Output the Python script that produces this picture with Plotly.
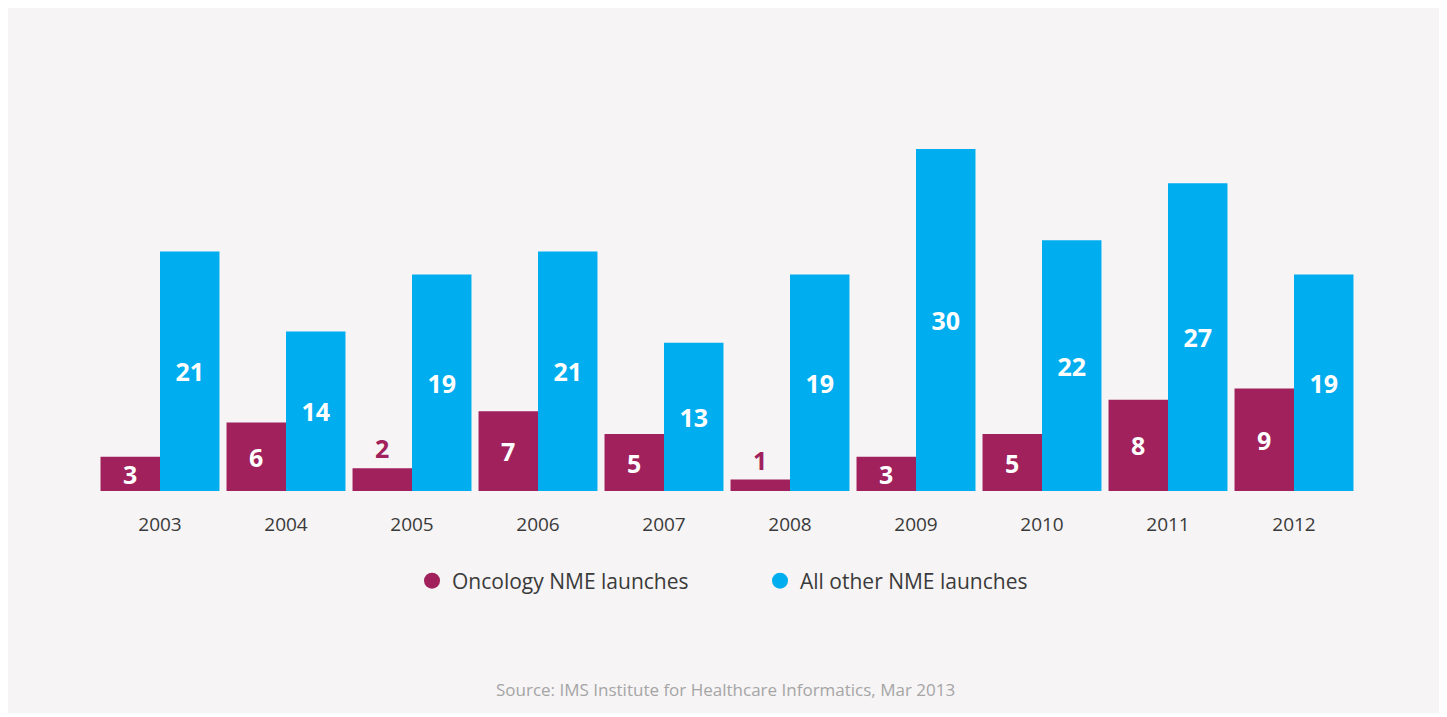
import plotly.graph_objects as go

years = ["2003", "2004", "2005", "2006", "2007", "2008", "2009", "2010", "2011", "2012"]
oncology = [3, 6, 2, 7, 5, 1, 3, 5, 8, 9]
other = [21, 14, 19, 21, 13, 19, 30, 22, 27, 19]

MAGENTA = "#a0215c"
BLUE = "#00adef"
PANEL = "#f6f4f5"
FONT = "Open Sans"

# small bars get their label above the bar
onc_pos = ["outside" if v < 3 else "inside" for v in oncology]

fig = go.Figure()
fig.add_trace(go.Bar(x=years, y=oncology, name="Oncology NME launches",
                     marker=dict(color=MAGENTA, line=dict(width=0)),
                     text=[str(v) for v in oncology], textposition=onc_pos,
                     insidetextanchor="middle", textangle=0, cliponaxis=False,
                     insidetextfont=dict(color="white", size=25, family=FONT, weight="bold"),
                     outsidetextfont=dict(color=MAGENTA, size=25, family=FONT, weight="bold"),
                     showlegend=False))
fig.add_trace(go.Bar(x=years, y=other, name="All other NME launches",
                     marker=dict(color=BLUE, line=dict(width=0)),
                     text=[str(v) for v in other], textposition="inside",
                     insidetextanchor="middle", textangle=0,
                     insidetextfont=dict(color="white", size=25, family=FONT, weight="bold"),
                     showlegend=False))

# legend entries with round markers
for name, col in [("Oncology NME launches", MAGENTA), ("All other NME launches", BLUE)]:
    fig.add_trace(go.Scatter(x=[None], y=[None], mode="markers", name=name,
                             marker=dict(symbol="circle", size=16, color=col)))

# page body has an 8px margin; target positions are given in page pixels
OFF = 8
W, H = 1447 - OFF, 717 - OFF
left, right, top, bottom = 97, 1357, 100, 491   # plot area in page px
l, t = left - OFF, top - OFF
r = W - (right - OFF)
b = H - (bottom - OFF)
pw, ph = right - left, bottom - top

def px(x):
    return (x - left) / pw

def py(y):
    return (bottom - y) / ph

fig.add_shape(type="rect", xref="paper", yref="paper", layer="below",
              x0=px(7), x1=px(1441), y0=py(713), y1=py(8),
              fillcolor=PANEL, line=dict(width=0))

fig.add_annotation(text="Source: IMS Institute for Healthcare Informatics, Mar 2013",
                   xref="paper", yref="paper", x=px(725), y=py(689),
                   showarrow=False, xanchor="center", yanchor="middle",
                   font=dict(family=FONT, size=17, color="#a5a5a5"))

fig.update_layout(
    width=W, height=H,
    margin=dict(l=l, r=r, t=t, b=b),
    paper_bgcolor="white", plot_bgcolor="rgba(0,0,0,0)",
    barmode="group", bargap=0.056, bargroupgap=0,
    uniformtext=dict(minsize=25, mode="show"),
    font=dict(family=FONT, color="#3a3a3a"),
    xaxis=dict(showgrid=False, showline=False, zeroline=False,
               ticks="outside", ticklen=16, tickcolor="rgba(0,0,0,0)",
               tickfont=dict(size=19, color="#3a3a3a")),
    yaxis=dict(range=[0, ph / 11.4], visible=False),
    legend=dict(orientation="h", x=px(760), xanchor="center", y=py(581), yanchor="middle",
                font=dict(size=21, color="#3a3a3a"), bgcolor="rgba(0,0,0,0)",
                itemsizing="trace", entrywidth=303),
)

fig.write_html("out.html")
